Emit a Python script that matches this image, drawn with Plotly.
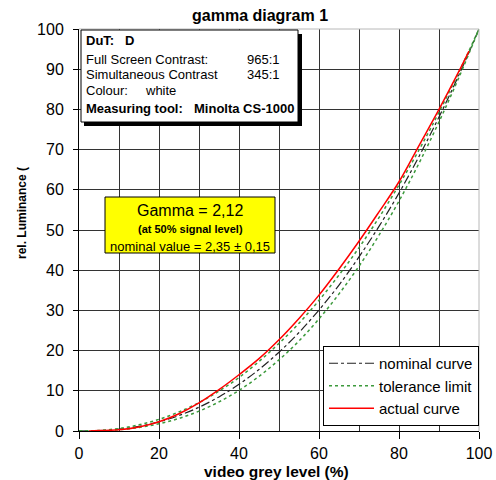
import plotly.graph_objects as go

# ---- data -------------------------------------------------------------
grey_level = [0, 5, 10, 15, 20, 25, 30, 35, 40, 45, 50, 55, 60, 65, 70,
              75, 80, 85, 90, 95, 100]

nominal_curve = [0, 0.09, 0.45, 1.16, 2.28, 3.85, 5.91, 8.48, 11.6, 15.3,
                 19.6, 24.5, 30.1, 36.3, 43.3, 50.9, 59.2, 68.3, 78.1,
                 88.6, 100]

tolerance_upper = [0, 0.14, 0.63, 1.54, 2.90, 4.74, 7.07, 9.93, 13.3, 17.3,
                   21.8, 26.8, 32.5, 38.8, 45.6, 53.1, 61.2, 69.9, 79.3,
                   89.3, 100]

tolerance_lower = [0, 0.06, 0.32, 0.87, 1.79, 3.13, 4.93, 7.25, 10.1, 13.6,
                   17.7, 22.4, 27.9, 34.1, 41.0, 48.7, 57.2, 66.6, 76.9,
                   88.0, 100]

actual_grey = [2.5, 5, 10, 15, 20, 25, 30, 35, 40, 45, 50, 55, 60, 65, 70,
               75, 80, 85, 90, 95, 97.5]
actual_curve = [0, 0.1, 0.3, 1.0, 2.3, 4.3, 7.0, 10.3, 14.0, 18.0, 22.7,
                28.0, 33.8, 40.3, 47.2, 54.5, 62.0, 71.0, 80.0, 89.5, 94.5]

x_ticks = [0, 20, 40, 60, 80, 100]
y_ticks = [0, 10, 20, 30, 40, 50, 60, 70, 80, 90, 100]

info_lines = [
    ("DuT:", "D"),
    ("Full Screen Contrast:", "965:1"),
    ("Simultaneous Contrast", "345:1"),
    ("Colour:", "white"),
    ("Measuring tool:", "Minolta CS-1000"),
]
gamma_lines = ["Gamma = 2,12", "(at 50% signal level)",
               "nominal value = 2,35 \u00b1 0,15"]

# ---- page geometry (pixels) ----------------------------------------
W, H = 496, 480
L, R, T, B = 79, 17, 29, 49
PW, PH = W - L - R, H - T - B
FONT = "Liberation Sans, Arial, sans-serif"


def px(x):
    """pixel column -> paper x"""
    return (x - L) / PW


def py(y):
    """pixel row -> paper y"""
    return (H - B - y) / PH


fig = go.Figure()

fig.add_trace(go.Scatter(
    x=grey_level, y=nominal_curve, mode="lines", name="nominal curve",
    line=dict(color="#222222", width=1.2, dash="dashdot", shape="spline"),
))
fig.add_trace(go.Scatter(
    x=grey_level, y=tolerance_upper, mode="lines", name="tolerance limit",
    legendgroup="tol",
    line=dict(color="#3c9a3c", width=1.5, dash="dot", shape="spline"),
))
fig.add_trace(go.Scatter(
    x=grey_level, y=tolerance_lower, mode="lines", name="tolerance limit",
    legendgroup="tol", showlegend=False,
    line=dict(color="#3c9a3c", width=1.5, dash="dot", shape="spline"),
))
fig.add_trace(go.Scatter(
    x=actual_grey, y=actual_curve, mode="lines", name="actual curve",
    line=dict(color="#ff0000", width=1.5, shape="spline"),
))

shapes = []
# light frame on top and right edge
shapes.append(dict(type="line", xref="paper", yref="paper", x0=0, x1=1,
                   y0=1, y1=1, line=dict(color="#b8b8b8", width=1),
                   layer="above"))
shapes.append(dict(type="line", xref="paper", yref="paper", x0=1, x1=1,
                   y0=0, y1=1, line=dict(color="#b8b8b8", width=1),
                   layer="above"))
# info box with drop shadow
shapes.append(dict(type="rect", xref="paper", yref="paper",
                   x0=px(84), x1=px(302), y0=py(126), y1=py(34),
                   fillcolor="black", line=dict(width=0), layer="above"))
shapes.append(dict(type="rect", xref="paper", yref="paper",
                   x0=px(81), x1=px(298), y0=py(122), y1=py(30),
                   fillcolor="white", line=dict(color="black", width=1),
                   layer="above"))
# gamma box
shapes.append(dict(type="rect", xref="paper", yref="paper",
                   x0=px(105), x1=px(275), y0=py(253), y1=py(197),
                   fillcolor="#ffff00", line=dict(color="black", width=1),
                   layer="above"))

annotations = []


def note(text, x, y, size, bold=False, xanchor="left", angle=0):
    annotations.append(dict(
        text=f"<b>{text}</b>" if bold else text,
        xref="paper", yref="paper", x=px(x), y=py(y),
        xanchor=xanchor, yanchor="middle", showarrow=False,
        textangle=angle, font=dict(family=FONT, size=size, color="black"),
    ))


note("gamma diagram 1", 260, 15, 16, bold=True, xanchor="center")
note("video grey level (%)", 276, 471, 15.5, bold=True, xanchor="center")
note("rel. Luminance (", 22, 213, 12, bold=True, xanchor="center", angle=-90)

info_y = [41, 59, 74, 90, 108]
value_x = [123, 245, 245, 143, 192]
for (label, value), yy, vx in zip(info_lines, info_y, value_x):
    bold = label in ("DuT:", "Measuring tool:")
    note(label, 84, yy, 13, bold=bold)
    note(value, vx, yy, 13, bold=bold)

note(gamma_lines[0], 190, 210, 16, xanchor="center")
note(gamma_lines[1], 190, 229, 11, bold=True, xanchor="center")
note(gamma_lines[2], 190, 246, 13, xanchor="center")

fig.update_layout(
    width=W, height=H,
    margin=dict(l=L, r=R, t=T, b=B, pad=0, autoexpand=False),
    paper_bgcolor="white", plot_bgcolor="white",
    font=dict(family=FONT, size=16, color="black"),
    showlegend=True,
    legend=dict(
        x=px(323), y=py(346), xanchor="left", yanchor="top",
        bgcolor="white", bordercolor="black", borderwidth=1,
        font=dict(family=FONT, size=15, color="black"),
        tracegroupgap=0, itemwidth=45,
    ),
    shapes=shapes,
    annotations=annotations,
)

fig.update_xaxes(
    range=[0, 100], tickvals=x_ticks, ticktext=[str(v) for v in x_ticks],
    ticks="outside", ticklen=7, tickcolor="black", tickwidth=1,
    showline=True, linecolor="black", linewidth=1,
    showgrid=True, gridcolor="#333333", gridwidth=1,
    minor=dict(dtick=10, tick0=0, showgrid=True, gridcolor="#333333",
               gridwidth=1, ticks=""),
    zeroline=False, tickfont=dict(size=16), ticklabelstandoff=1,
    automargin=False,
)
fig.update_yaxes(
    range=[0, 100], tickvals=y_ticks, ticktext=[str(v) for v in y_ticks],
    ticks="outside", ticklen=5, tickcolor="black", tickwidth=1,
    showline=True, linecolor="black", linewidth=1,
    showgrid=True, gridcolor="#333333", gridwidth=1,
    zeroline=False, tickfont=dict(size=16), ticklabelstandoff=6,
    automargin=False,
)

fig.write_html("out.html")
